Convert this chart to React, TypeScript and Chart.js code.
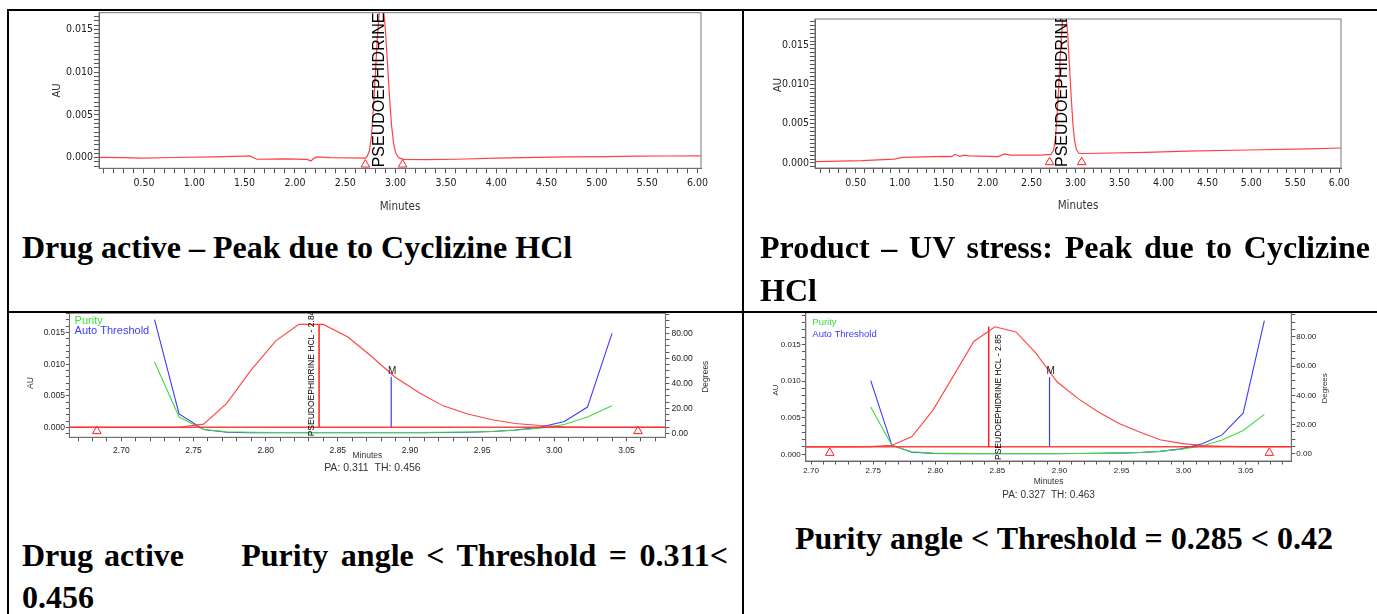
import React, { useEffect, useRef } from "react";
import { Chart, registerables } from "chart.js";

Chart.register(...registerables);

// ---------------- DATA ----------------
// Top-left: Drug active chromatogram (AU vs minutes)
const c1Times = [0.06, 0.30, 0.48, 0.80, 1.20, 1.50, 1.55, 1.62, 1.90, 2.12, 2.16, 2.19, 2.22, 2.35, 2.55, 2.70, 2.72, 2.74, 2.76, 2.78, 2.80, 2.82, 2.84, 2.86, 2.88, 2.90, 2.92, 2.94, 2.96, 2.98, 3.00, 3.03, 3.08, 3.30, 3.60, 4.00, 4.40, 4.70, 5.10, 5.40, 5.70, 6.03];
const c1AU = [0.00004, 0.0, -0.00004, 0.00002, 0.0001, 0.00018, 0.0002, -0.00018, -0.00015, -0.0002, -0.00038, -0.00005, 0.0001, 0.0, -0.00002, -0.00004, 0.0002, 0.0008, 0.0025, 0.0058, 0.01, 0.0142, 0.0172, 0.0183, 0.0174, 0.0148, 0.011, 0.007, 0.0038, 0.0017, 0.0006, 0.0, -0.0002, -0.00022, -0.00018, -0.00005, 0.00004, 0.0001, 0.00012, 0.00018, 0.0002, 0.00022];
const c1MarkerTimes = [2.70, 3.07];
const c1MarkerAU = [-0.0008, -0.0008];
const c1PeakName = "PSEUDOEPHIDRINE";
const c1PeakTime = 2.846;
const c1XTickLabels = [0.5, 1.0, 1.5, 2.0, 2.5, 3.0, 3.5, 4.0, 4.5, 5.0, 5.5, 6.0];
const c1YTickLabels = [0, 0.005, 0.01, 0.015];

// Top-right: Product UV stress chromatogram
const c2Times = [0.04, 0.57, 0.94, 1.03, 1.49, 1.59, 1.63, 1.68, 1.74, 1.79, 2.12, 2.19, 2.26, 2.42, 2.60, 2.72, 2.75, 2.77, 2.79, 2.81, 2.83, 2.85, 2.87, 2.89, 2.91, 2.93, 2.95, 2.97, 2.99, 3.01, 3.04, 3.11, 3.80, 4.27, 4.96, 5.65, 6.02];
const c2AU = [0.00017, 0.0003, 0.0005, 0.0007, 0.00085, 0.0008, 0.0011, 0.00085, 0.001, 0.0009, 0.0008, 0.00115, 0.001, 0.001, 0.001, 0.0011, 0.0016, 0.003, 0.006, 0.01, 0.0145, 0.0178, 0.0195, 0.019, 0.0165, 0.0125, 0.0085, 0.005, 0.0028, 0.0017, 0.0012, 0.0012, 0.00135, 0.0015, 0.00165, 0.0018, 0.0019];
const c2MarkerTimes = [2.705, 3.07];
const c2MarkerAU = [0.0001, 0.0001];
const c2PeakName = "PSEUDOEPHIDRINE";
const c2PeakTime = 2.857;
const c2XTickLabels = [0.5, 1.0, 1.5, 2.0, 2.5, 3.0, 3.5, 4.0, 4.5, 5.0, 5.5, 6.0];
const c2YTickLabels = [0, 0.005, 0.01, 0.015];

// Bottom-left: Drug active purity plot
const c3Times = [2.664, 2.707, 2.723, 2.740, 2.757, 2.773, 2.790, 2.807, 2.823, 2.840, 2.857, 2.873, 2.890, 2.907, 2.923, 2.940, 2.957, 2.973, 2.990, 3.007, 3.023, 3.040, 3.077];
const c3AU = [0.0, 0.0, 0.0, 0.0, 0.0005, 0.0038, 0.0091, 0.0137, 0.0163, 0.0163, 0.0143, 0.0113, 0.0079, 0.0054, 0.0034, 0.0021, 0.0012, 0.0006, 0.0003, 0.0001, 0.0, 0.0, 0.0];
const c3PurityTimes = [2.723, 2.740, 2.757, 2.773, 2.790, 2.807, 2.823, 2.840, 2.857, 2.873, 2.890, 2.907, 2.923, 2.940, 2.957, 2.973, 2.990, 3.007, 3.023, 3.040];
const c3PurityAngle = [57, 13, 3, 1.2, 0.8, 0.7, 0.7, 0.7, 0.7, 0.7, 0.7, 0.7, 0.8, 1.0, 1.5, 2.5, 4.0, 7.0, 13.0, 22.0];
const c3Threshold = [91, 15.5, 3.0, 0.9, 0.5, 0.4, 0.4, 0.4, 0.4, 0.4, 0.4, 0.5, 0.6, 0.9, 1.5, 2.7, 4.8, 9.5, 21, 80];
const c3BaselineAU = 0;
const c3MarkerTimes = [2.683, 3.058];
const c3MarkerAU = [-0.0006, -0.0006];
const c3ApexTime = 2.837;
const c3ApexAU = 0.0163;
const c3MTime = 2.887;
const c3MAU = 0.008;
const c3PeakName = "PSEUDOEPHIDRINE HCL - 2.84";
const c3PeakTime = 2.832;
const c3XTickLabels = [2.70, 2.75, 2.80, 2.85, 2.90, 2.95, 3.00, 3.05];
const c3YTickLabels = [0, 0.005, 0.01, 0.015];
const c3DegTickLabels = [0, 20, 40, 60, 80];
const c3Result = "PA: 0.311  TH: 0.456";

// Bottom-right: Product purity plot
const c4Times = [2.696, 2.731, 2.748, 2.765, 2.781, 2.798, 2.815, 2.831, 2.848, 2.865, 2.881, 2.898, 2.915, 2.931, 2.948, 2.965, 2.981, 2.998, 3.015, 3.031, 3.048, 3.087];
const c4AU = [0.001, 0.001, 0.00105, 0.00123, 0.0024, 0.006, 0.0108, 0.0154, 0.0174, 0.0167, 0.0138, 0.0099, 0.0076, 0.0058, 0.0042, 0.003, 0.002, 0.0015, 0.0012, 0.0011, 0.00105, 0.00105];
const c4PurityTimes = [2.748, 2.765, 2.781, 2.798, 2.815, 2.831, 2.848, 2.865, 2.881, 2.898, 2.915, 2.931, 2.948, 2.965, 2.981, 2.998, 3.015, 3.031, 3.048, 3.065];
const c4PurityAngle = [32, 6, 1.5, 0.6, 0.4, 0.3, 0.3, 0.3, 0.3, 0.3, 0.3, 0.4, 0.6, 1.0, 1.8, 3.2, 5.5, 9.5, 16, 27];
const c4Threshold = [50, 6, 1.2, 0.4, 0.2, 0.2, 0.2, 0.2, 0.2, 0.2, 0.3, 0.4, 0.6, 1.0, 1.8, 3.5, 7.0, 13, 28, 91];
const c4BaselineAU = 0.00105;
const c4MarkerTimes = [2.715, 3.069];
const c4MarkerAU = [0.0002, 0.0002];
const c4ApexTime = 2.843;
const c4ApexAU = 0.0174;
const c4MTime = 2.892;
const c4MAU = 0.0105;
const c4PeakName = "PSEUDOEPHIDRINE HCL - 2.85";
const c4PeakTime = 2.851;
const c4XTickLabels = [2.70, 2.75, 2.80, 2.85, 2.90, 2.95, 3.00, 3.05];
const c4YTickLabels = [0, 0.005, 0.01, 0.015];
const c4DegTickLabels = [0, 20, 40, 60, 80];
const c4Result = "PA: 0.327  TH: 0.463";

// Captions
const captionTopLeft = "Drug active – Peak due to Cyclizine HCl";
const captionTopRight = "Product – UV stress: Peak due to Cyclizine HCl";
const captionBottomLeftA = "Drug active";
const captionBottomLeftB = "Purity angle < Threshold = 0.311<";
const captionBottomLeftC = "0.456";
const captionBottomRight = "Purity angle < Threshold = 0.285 < 0.42";

// ---------------- HELPERS ----------------
const NARROW = '"Liberation Sans Narrow", "Arial Narrow", "DejaVu Sans Condensed", sans-serif';
const SANS = '"Liberation Sans", Arial, sans-serif';
const RED = "rgba(255,45,45,0.9)";
const RED_DARK = "#ff1f1f";
const GREEN = "#3fdc3f";
const BLUE = "#3b3bff";

type Box = { x: number; y: number; w: number; h: number };
type Plot = { l: number; t: number; r: number; b: number };

function paddingFor(box: Box, plot: Plot, left: number, right: number, bottom: number) {
  return {
    left: plot.l - box.x - left,
    top: plot.t - box.y,
    right: box.x + box.w - plot.r - right,
    bottom: box.y + box.h - plot.b - bottom,
  };
}

function fitTo(size: number, vertical: boolean) {
  return (s: any) => {
    if (vertical) s.width = size;
    else s.height = size;
    s.paddingTop = 0;
    s.paddingBottom = 0;
    s.paddingLeft = 0;
    s.paddingRight = 0;
  };
}

function hasLabel(v: number, labels: number[], step: number) {
  return labels.some((l) => Math.abs(l - v) < step / 10);
}

function makeAxis(o: {
  position: "left" | "right" | "bottom";
  min: number;
  max: number;
  step: number;
  labels: number[];
  decimals: number;
  size: number;
  tickLength: number;
  padding: number;
  fontSize: number;
  family: string;
}) {
  const vertical = o.position !== "bottom";
  return {
    type: "linear",
    position: o.position,
    min: o.min,
    max: o.max,
    afterFit: fitTo(o.size, vertical),
    border: { display: true, color: "#555", width: 1 },
    grid: {
      display: true,
      drawOnChartArea: false,
      drawTicks: true,
      tickLength: o.tickLength,
      color: "#555",
      lineWidth: 1,
    },
    ticks: {
      stepSize: o.step,
      includeBounds: false,
      autoSkip: false,
      maxRotation: 0,
      minRotation: 0,
      padding: o.padding,
      color: "#222",
      font: { family: o.family, size: o.fontSize },
      callback: (v: any) => (hasLabel(Number(v), o.labels, o.step) ? Number(v).toFixed(o.decimals) : ""),
    },
  };
}

function series(times: number[], vals: number[]) {
  return times.map((t, i) => ({ x: t, y: vals[i] }));
}

function lineDs(data: any[], color: string, width: number, yAxisID = "y") {
  return {
    type: "line",
    data,
    borderColor: color,
    borderWidth: width,
    pointRadius: 0,
    tension: 0,
    fill: false,
    xAxisID: "x",
    yAxisID,
  };
}

function markerDs(data: any[]) {
  return {
    type: "line",
    data,
    showLine: false,
    pointStyle: "triangle",
    pointRadius: 5,
    pointBorderColor: RED_DARK,
    pointBackgroundColor: "rgba(255,255,255,0)",
    pointBorderWidth: 1,
    borderColor: RED_DARK,
    clip: false,
    xAxisID: "x",
    yAxisID: "y",
  };
}

function drawText(
  ctx: CanvasRenderingContext2D,
  text: string,
  x: number,
  y: number,
  font: string,
  color: string,
  rot = 0,
  align: CanvasTextAlign = "center",
  baseline: CanvasTextBaseline = "middle"
) {
  ctx.save();
  ctx.translate(x, y);
  if (rot) ctx.rotate(rot);
  ctx.font = font;
  ctx.fillStyle = color;
  ctx.textAlign = align;
  ctx.textBaseline = baseline;
  ctx.fillText(text, 0, 0);
  ctx.restore();
}

function peakLabel(ctx: CanvasRenderingContext2D, a: any, chart: any, text: string, time: number, font: string) {
  const x = chart.scales.x.getPixelForValue(time);
  ctx.save();
  ctx.beginPath();
  ctx.rect(a.left, a.top, a.right - a.left, a.bottom - a.top);
  ctx.clip();
  ctx.translate(x, a.bottom - 1);
  ctx.rotate(-Math.PI / 2);
  ctx.font = font;
  ctx.fillStyle = "#000";
  ctx.textAlign = "left";
  ctx.textBaseline = "middle";
  ctx.fillText(text, 0, 0);
  ctx.restore();
}

function extras(draw: (ctx: CanvasRenderingContext2D, a: any, chart: any) => void) {
  return {
    id: "extras",
    afterDatasetsDraw(chart: any) {
      const ctx = chart.ctx as CanvasRenderingContext2D;
      const a = chart.chartArea;
      ctx.save();
      ctx.strokeStyle = "#777";
      ctx.lineWidth = 1;
      ctx.strokeRect(a.left, a.top, a.right - a.left, a.bottom - a.top);
      ctx.restore();
      ctx.save();
      draw(ctx, a, chart);
      ctx.restore();
    },
  };
}

function baseConfig(datasets: any[], scales: any, padding: any, plugin: any) {
  return {
    type: "line",
    data: { datasets },
    options: {
      animation: false,
      responsive: false,
      maintainAspectRatio: false,
      devicePixelRatio: 1,
      events: [],
      layout: { padding, autoPadding: false },
      plugins: { legend: { display: false }, tooltip: { enabled: false } },
      scales,
    },
    plugins: [plugin],
  };
}

// ---------------- CHART BUILDERS ----------------
const box1: Box = { x: 10, y: 11, w: 728, h: 210 };
const plot1: Plot = { l: 99, t: 12.7, r: 701, b: 168.3 };
function buildChart1() {
  return baseConfig(
    [lineDs(series(c1Times, c1AU), RED, 1.2), markerDs(series(c1MarkerTimes, c1MarkerAU))],
    {
      x: makeAxis({ position: "bottom", min: 0.053, max: 6.035, step: 0.1, labels: c1XTickLabels, decimals: 2, size: 30, tickLength: 5, padding: 4, fontSize: 10.5, family: NARROW }),
      y: makeAxis({ position: "left", min: -0.00124, max: 0.01694, step: 0.0005, labels: c1YTickLabels, decimals: 3, size: 50, tickLength: 5, padding: 1, fontSize: 10.5, family: NARROW }),
    },
    paddingFor(box1, plot1, 50, 0, 30),
    extras((ctx, a, chart) => {
      peakLabel(ctx, a, chart, c1PeakName, c1PeakTime, `16px ${SANS}`);
      drawText(ctx, "AU", a.left - 42, (a.top + a.bottom) / 2, `11px ${NARROW}`, "#333", -Math.PI / 2);
      drawText(ctx, "Minutes", (a.left + a.right) / 2, a.bottom + 38.7, `11.5px ${NARROW}`, "#333");
    })
  );
}

const box2: Box = { x: 746, y: 11, w: 628, h: 210 };
const plot2: Plot = { l: 815, t: 19, r: 1341, b: 168 };
function buildChart2() {
  return baseConfig(
    [lineDs(series(c2Times, c2AU), RED, 1.2), markerDs(series(c2MarkerTimes, c2MarkerAU))],
    {
      x: makeAxis({ position: "bottom", min: 0.036, max: 6.02, step: 0.1, labels: c2XTickLabels, decimals: 2, size: 30, tickLength: 5, padding: 4, fontSize: 10.5, family: NARROW }),
      y: makeAxis({ position: "left", min: -0.00064, max: 0.0183, step: 0.0005, labels: c2YTickLabels, decimals: 3, size: 50, tickLength: 5, padding: 1, fontSize: 10.5, family: NARROW }),
    },
    paddingFor(box2, plot2, 50, 0, 30),
    extras((ctx, a, chart) => {
      peakLabel(ctx, a, chart, c2PeakName, c2PeakTime, `16px ${SANS}`);
      drawText(ctx, "AU", a.left - 36.4, a.top + 66, `11px ${NARROW}`, "#333", -Math.PI / 2);
      drawText(ctx, "Minutes", (a.left + a.right) / 2, a.bottom + 38, `11.5px ${NARROW}`, "#333");
    })
  );
}

const box3: Box = { x: 10, y: 306, w: 728, h: 176 };
const plot3: Plot = { l: 69.4, t: 313.3, r: 665.4, b: 437.3 };
const c3XMin = 2.664;
const c3XMax = 3.077;
function buildChart3() {
  return baseConfig(
    [
      lineDs(series([c3XMin, c3XMax], [c3BaselineAU, c3BaselineAU]), RED, 1.5),
      lineDs(series(c3Times, c3AU), RED, 1.1),
      lineDs(series([c3ApexTime, c3ApexTime], [c3BaselineAU, c3ApexAU]), RED_DARK, 1.5),
      lineDs(series([c3MTime, c3MTime], [c3BaselineAU, c3MAU]), BLUE, 1.2),
      lineDs(series(c3PurityTimes, c3PurityAngle), GREEN, 1.1, "y2"),
      lineDs(series(c3PurityTimes, c3Threshold), BLUE, 1.1, "y2"),
      markerDs(series(c3MarkerTimes, c3MarkerAU)),
    ],
    {
      x: makeAxis({ position: "bottom", min: c3XMin, max: c3XMax, step: 0.01, labels: c3XTickLabels, decimals: 2, size: 20, tickLength: 4, padding: 4, fontSize: 8.5, family: SANS }),
      y: makeAxis({ position: "left", min: -0.00158, max: 0.01806, step: 0.001, labels: c3YTickLabels, decimals: 3, size: 40, tickLength: 3.5, padding: 1, fontSize: 8.5, family: SANS }),
      y2: makeAxis({ position: "right", min: -3.2, max: 96, step: 5, labels: c3DegTickLabels, decimals: 2, size: 40, tickLength: 4, padding: 2, fontSize: 8.5, family: SANS }),
    },
    paddingFor(box3, plot3, 40, 40, 20),
    extras((ctx, a, chart) => {
      peakLabel(ctx, a, chart, c3PeakName, c3PeakTime, `8.5px ${SANS}`);
      const mx = chart.scales.x.getPixelForValue(c3MTime);
      const my = chart.scales.y.getPixelForValue(c3MAU);
      drawText(ctx, "M", mx + 1, my - 1, `10px ${SANS}`, "#222", 0, "center", "bottom");
      drawText(ctx, "AU", a.left - 38.7, a.top + 69.7, `8.5px ${SANS}`, "#333", -Math.PI / 2);
      drawText(ctx, "Degrees", a.right + 40, a.top + 63.4, `8.5px ${SANS}`, "#333", -Math.PI / 2);
      drawText(ctx, "Minutes", (a.left + a.right) / 2, a.bottom + 18.7, `8.5px ${SANS}`, "#333");
      drawText(ctx, c3Result, (a.left + a.right) / 2 + 5, a.bottom + 30.7, `10.5px ${SANS}`, "#333");
      drawText(ctx, "Purity", a.left + 5.2, a.top + 7.4, `11px ${SANS}`, GREEN, 0, "left");
      drawText(ctx, "Auto Threshold", a.left + 5.2, a.top + 18, `11px ${SANS}`, BLUE, 0, "left");
    })
  );
}

const box4: Box = { x: 746, y: 306, w: 628, h: 200 };
const plot4: Plot = { l: 805.8, t: 312.7, r: 1291.3, b: 461 };
const c4XMin = 2.6957;
const c4XMax = 3.0867;
function buildChart4() {
  return baseConfig(
    [
      lineDs(series([c4XMin, c4XMax], [c4BaselineAU, c4BaselineAU]), RED, 1.5),
      lineDs(series(c4Times, c4AU), RED, 1.1),
      lineDs(series([c4ApexTime, c4ApexTime], [c4BaselineAU, c4ApexAU]), RED_DARK, 1.5),
      lineDs(series([c4MTime, c4MTime], [c4BaselineAU, c4MAU]), BLUE, 1.2),
      lineDs(series(c4PurityTimes, c4PurityAngle), GREEN, 1.1, "y2"),
      lineDs(series(c4PurityTimes, c4Threshold), BLUE, 1.1, "y2"),
      markerDs(series(c4MarkerTimes, c4MarkerAU)),
    ],
    {
      x: makeAxis({ position: "bottom", min: c4XMin, max: c4XMax, step: 0.01, labels: c4XTickLabels, decimals: 2, size: 20, tickLength: 3.5, padding: 1, fontSize: 8, family: SANS }),
      y: makeAxis({ position: "left", min: -0.00091, max: 0.01932, step: 0.001, labels: c4YTickLabels, decimals: 3, size: 40, tickLength: 4, padding: 1, fontSize: 8, family: SANS }),
      y2: makeAxis({ position: "right", min: -4.8, max: 96.4, step: 5, labels: c4DegTickLabels, decimals: 2, size: 40, tickLength: 4, padding: 1, fontSize: 8, family: SANS }),
    },
    paddingFor(box4, plot4, 40, 40, 20),
    extras((ctx, a, chart) => {
      peakLabel(ctx, a, chart, c4PeakName, c4PeakTime, `8.5px ${SANS}`);
      const mx = chart.scales.x.getPixelForValue(c4MTime);
      const my = chart.scales.y.getPixelForValue(c4MAU);
      drawText(ctx, "M", mx + 1, my - 1, `10px ${SANS}`, "#222", 0, "center", "bottom");
      drawText(ctx, "AU", a.left - 30, a.top + 77.3, `8px ${SANS}`, "#333", -Math.PI / 2);
      drawText(ctx, "Degrees", a.right + 33.7, a.top + 75.6, `8px ${SANS}`, "#333", -Math.PI / 2);
      drawText(ctx, "Minutes", (a.left + a.right) / 2, a.bottom + 20.7, `8.5px ${SANS}`, "#333");
      drawText(ctx, c4Result, (a.left + a.right) / 2, a.bottom + 34.7, `10px ${SANS}`, "#333");
      drawText(ctx, "Purity", a.left + 6.5, a.top + 10, `9.5px ${SANS}`, GREEN, 0, "left");
      drawText(ctx, "Auto Threshold", a.left + 6.5, a.top + 21.6, `9.5px ${SANS}`, BLUE, 0, "left");
    })
  );
}

// ---------------- COMPONENTS ----------------
function ChartCanvas({ box, build }: { box: Box; build: () => any }) {
  const ref = useRef<HTMLCanvasElement>(null);
  useEffect(() => {
    const chart = new Chart(ref.current as HTMLCanvasElement, build());
    return () => chart.destroy();
  }, []);
  return (
    <canvas
      ref={ref}
      width={box.w}
      height={box.h}
      style={{ position: "absolute", left: box.x, top: box.y, width: box.w, height: box.h }}
    />
  );
}

const captionBase: React.CSSProperties = {
  position: "absolute",
  fontFamily: '"Liberation Serif", "Times New Roman", serif',
  fontWeight: "bold",
  fontSize: 32,
  color: "#000",
};

function line(left: number, top: number, width: number, height: number) {
  return <div style={{ position: "absolute", left, top, width, height, background: "#000" }} />;
}

export default function App() {
  return (
    <div style={{ position: "absolute", left: 0, top: 0, width: 1377, height: 614, background: "#fff", overflow: "hidden" }}>
      <ChartCanvas box={box1} build={buildChart1} />
      <ChartCanvas box={box2} build={buildChart2} />
      <ChartCanvas box={box3} build={buildChart3} />
      <ChartCanvas box={box4} build={buildChart4} />

      <div style={{ ...captionBase, left: 22, top: 225.5, lineHeight: "43px", whiteSpace: "nowrap" }}>{captionTopLeft}</div>
      <div style={{ ...captionBase, left: 760, top: 225.5, width: 610, lineHeight: "43px", textAlign: "justify" }}>{captionTopRight}</div>
      <div style={{ ...captionBase, left: 22, top: 534, width: 706, lineHeight: "42px" }}>
        <div style={{ display: "flex", justifyContent: "space-between", whiteSpace: "nowrap" }}>
          <span style={{ wordSpacing: 3 }}>{captionBottomLeftA}</span>
          <span style={{ wordSpacing: 4.5 }}>{captionBottomLeftB}</span>
        </div>
        <div>{captionBottomLeftC}</div>
      </div>
      <div style={{ ...captionBase, left: 795, top: 516.5, lineHeight: "43px", whiteSpace: "nowrap" }}>{captionBottomRight}</div>

      {line(7, 9, 1370, 2)}
      {line(7, 9, 2, 605)}
      {line(742, 9, 2, 605)}
      {line(7, 311, 1370, 2)}
    </div>
  );
}
